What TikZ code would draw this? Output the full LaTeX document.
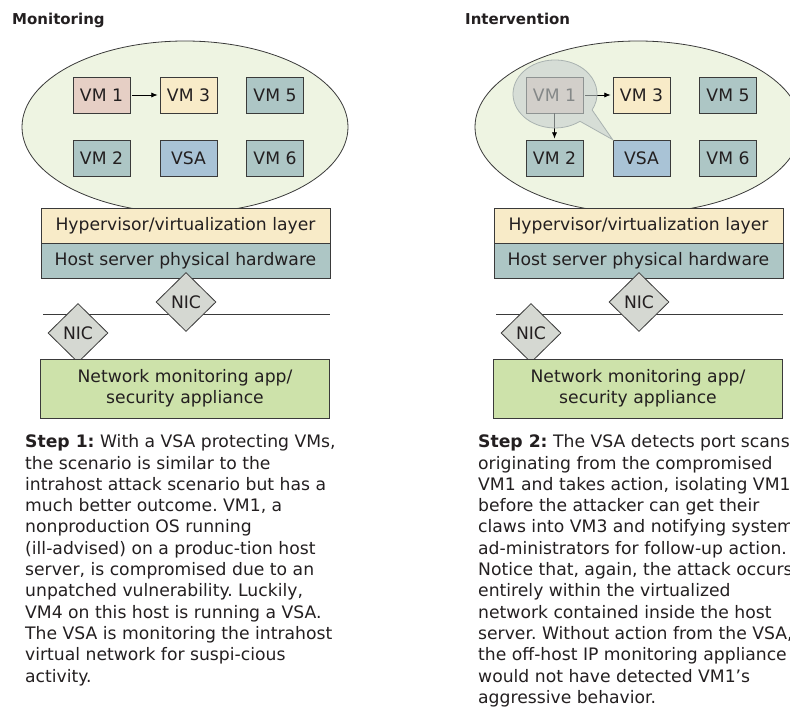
\documentclass[tikz,border=0pt]{standalone}
\usepackage{fontspec}
\setmainfont{DejaVu Sans}
\usepackage{tikz}
\usetikzlibrary{shapes.geometric}
\usetikzlibrary{arrows.meta,positioning}
\frenchspacing

\definecolor{ink}{HTML}{231F20}
\definecolor{edge}{HTML}{3A3A3A}
\definecolor{ovalgreen}{HTML}{EEF4E2}
\definecolor{vmpink}{HTML}{E6CFC5}
\definecolor{vmyellow}{HTML}{F8EBC8}
\definecolor{vmteal}{HTML}{ADC6C5}
\definecolor{vsablue}{HTML}{A9C3D6}
\definecolor{nicgray}{HTML}{D5D8D2}
\definecolor{appgreen}{HTML}{CDE2AA}
\definecolor{bubblegray}{HTML}{C6CFCE}
\definecolor{bubbleedge}{HTML}{A9B2B0}

\begin{document}
\begin{tikzpicture}[x=1pt, y=-1pt, >={Latex[length=2.2mm, width=1.8mm]},
    every node/.style={text=ink, font=\fontsize{17.2}{21.3}\selectfont},
    title/.style={anchor=base west, inner sep=0, font=\fontsize{15}{20}\selectfont\bfseries},
    oval/.style={ellipse, draw=edge, fill=ovalgreen, line width=0.8pt, minimum width=326, minimum height=172, inner sep=0},
    vm/.style={draw=edge, line width=0.8pt, minimum width=57, minimum height=36, inner sep=0},
    layer/.style={draw=edge, line width=0.8pt, minimum width=289, minimum height=35, inner sep=0, outer sep=0},
    nic/.style={diamond, draw=edge, fill=nicgray, line width=0.8pt, minimum width=60, minimum height=59, inner sep=0},
    netline/.style={draw=edge, line width=1pt},
    steptext/.style={anchor=base west, align=left, inner sep=0},
    bubble/.style={fill=bubblegray, fill opacity=0.6, draw=bubbleedge, line width=0.8pt}]

        % Page
        \clip (0,0) rectangle (790,709);

        % Monitoring
        \node at (12,25) [title] (mTitle) {Monitoring};
        \node at (185,127) [oval] (mOval) {};
        \node at (101.5,95) [vm, fill=vmpink] (mVM1) {VM 1};
        \node at (188.5,95) [vm, fill=vmyellow] (mVM3) {VM 3};
        \node at (275,95) [vm, fill=vmteal] (mVM5) {VM 5};
        \node at (101.5,158) [vm, fill=vmteal] (mVM2) {VM 2};
        \node at (188.5,158) [vm, fill=vsablue] (mVSA) {VSA};
        \node at (275,158) [vm, fill=vmteal] (mVM6) {VM 6};
        \draw[->, line width=0.8pt, shorten <=1.5pt, shorten >=2pt] (mVM1.east) -- (mVM3.west);

        \node at (185.5,225.5) [layer, fill=vmyellow] (mHyp) {Hypervisor/virtualization layer};
        \node [layer, fill=vmteal, below=0pt of mHyp] (mHost) {Host server physical hardware};

        \coordinate (mNetL) at (43,314);
        \coordinate (mNetR) at (330,314);
        \draw[netline] (mNetL) -- (mNetR);
        \node at (186,302) [nic] (mNIC1) {NIC};
        \node at (78,333) [nic] (mNIC2) {NIC};
        \node at (185,388.5) [layer, fill=appgreen, minimum height=59, align=center] (mApp) {Network monitoring app/\\security appliance};

        % base anchor sits on the last line
        \node at (25,682) [steptext] (mStep) {\textbf{Step 1:} With a VSA protecting VMs,\\
            the scenario is similar to the\\
            intrahost attack scenario but has a\\
            much better outcome. VM1, a\\
            nonproduction OS running\\
            (ill-advised) on a produc-tion host\\
            server, is compromised due to an\\
            unpatched vulnerability. Luckily,\\
            VM4 on this host is running a VSA.\\
            The VSA is monitoring the intrahost\\
            virtual network for suspi-cious\\
            activity.};

        % Intervention
        \node at (465,25) [title] (iTitle) {Intervention};
        \node at (638,127) [oval] (iOval) {};
        \node at (554.5,95) [vm, fill=vmpink] (iVM1) {VM 1};
        \node at (641.5,95) [vm, fill=vmyellow] (iVM3) {VM 3};
        \node at (728,95) [vm, fill=vmteal] (iVM5) {VM 5};
        \node at (554.5,158) [vm, fill=vmteal] (iVM2) {VM 2};
        \node at (641.5,158) [vm, fill=vsablue] (iVSA) {VSA};
        \node at (728,158) [vm, fill=vmteal] (iVM6) {VM 6};
        \draw[->, line width=0.8pt, shorten <=1.5pt, shorten >=2pt] (iVM1.east) -- (iVM3.west);
        \draw[->, line width=0.8pt, shorten >=1pt] (iVM1.south) -- (iVM2.north);

        % VSA isolates VM1
        \draw[bubble] (580,121.3) arc[start angle=53.5, end angle=388, x radius=42, y radius=34] -- (iVSA.north west) -- cycle;

        \node at (638.5,225.5) [layer, fill=vmyellow] (iHyp) {Hypervisor/virtualization layer};
        \node [layer, fill=vmteal, below=0pt of iHyp] (iHost) {Host server physical hardware};

        \coordinate (iNetL) at (496,314);
        \coordinate (iNetR) at (783,314);
        \draw[netline] (iNetL) -- (iNetR);
        \node at (639,302) [nic] (iNIC1) {NIC};
        \node at (531,333) [nic] (iNIC2) {NIC};
        \node at (638,388.5) [layer, fill=appgreen, minimum height=59, align=center] (iApp) {Network monitoring app/\\security appliance};

        \node at (478,703.3) [steptext] (iStep) {\textbf{Step 2:} The VSA detects port scans\\
            originating from the compromised\\
            VM1 and takes action, isolating VM1\\
            before the attacker can get their\\
            claws into VM3 and notifying system\\
            ad-ministrators for follow-up action.\\
            Notice that, again, the attack occurs\\
            entirely within the virtualized\\
            network contained inside the host\\
            server. Without action from the VSA,\\
            the off-host IP monitoring appliance\\
            would not have detected VM1's\\
            aggressive behavior.};

\end{tikzpicture}
\end{document}
